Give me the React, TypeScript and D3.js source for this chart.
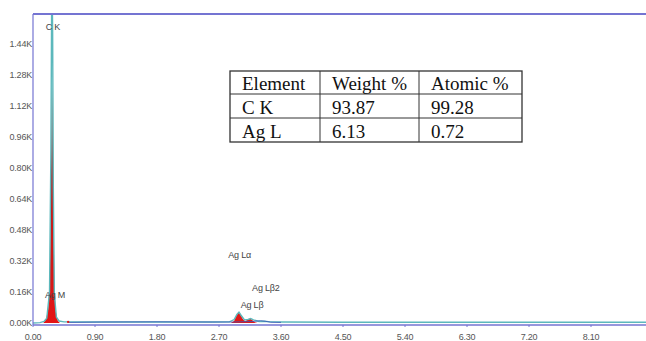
import React from "react";
import * as d3 from "d3";

// axis ticks (keV / counts)
const xTicks = [0, 0.9, 1.8, 2.7, 3.6, 4.5, 5.4, 6.3, 7.2, 8.1];
const yTicks = [0, 160, 320, 480, 640, 800, 960, 1120, 1280, 1440];

// measured spectrum (teal outline)
const specE = [0, 0.1, 0.16, 0.2, 0.24, 0.26, 0.27, 0.276, 0.285, 0.295, 0.31, 0.34, 0.38, 0.45, 0.6, 0.9, 1.4, 2.0, 2.6, 2.85, 2.92, 2.96, 2.99, 3.02, 3.07, 3.12, 3.16, 3.2, 3.28, 3.36, 3.45, 3.6, 4.5, 5.5, 6.5, 7.5, 8.5, 9.0];
const specC = [0, 2, 8, 25, 160, 900, 1600, 1800, 1500, 700, 150, 30, 10, 6, 5, 5, 5, 5, 5, 6, 18, 44, 56, 40, 16, 18, 23, 16, 8, 9, 6, 5, 4, 4, 4, 4, 4, 4];

// fitted peaks (red fill)
const ckE = [0.15, 0.19, 0.22, 0.245, 0.26, 0.27, 0.276, 0.285, 0.295, 0.31, 0.33, 0.36, 0.39];
const ckC = [0, 20, 70, 240, 700, 1150, 1240, 1100, 600, 200, 60, 12, 0];
const agE = [2.87, 2.92, 2.95, 2.98, 3.01, 3.05, 3.08, 3.12, 3.15, 3.18, 3.22, 3.26];
const agC = [0, 10, 36, 56, 44, 18, 9, 18, 23, 16, 4, 0];

// background / residual (blue)
const bgE = [0.5, 1.0, 1.8, 2.6, 2.9, 3.2, 3.3, 3.37, 3.45, 3.6];
const bgC = [3, 5, 6, 5, 5, 8, 12, 9, 4, 3];

// peak labels
const peakNames = ["C K", "Ag M", "Ag L\u03b1", "Ag L\u03b22", "Ag L\u03b2"];
const peakLabelE = [0.29, 0.32, 3.0, 3.38, 3.18];
const peakLabelC = [1510, 129, 335, 165, 77];

// quantification table
const tableHeader = ["Element", "Weight %", "Atomic %"];
const tableRows = [
  ["C K", "93.87", "99.28"],
  ["Ag L", "6.13", "0.72"],
];

const W = 646;
const H = 341;
const frameCol = "#7474d2";
const tickCol = "#555";

export default function App() {
  const x = d3.scaleLinear().domain([0, 8.1]).range([33, 591]);
  const y = d3.scaleLinear().domain([0, 1440]).range([323, 44]);

  const line = d3
    .line<number>()
    .x((_, i) => x(specE[i]))
    .y((d) => y(d));
  const bgLine = d3
    .line<number>()
    .x((_, i) => x(bgE[i]))
    .y((d) => y(d));
  const ckArea = d3
    .area<number>()
    .x((_, i) => x(ckE[i]))
    .y0(y(0))
    .y1((d) => y(d));
  const agArea = d3
    .area<number>()
    .x((_, i) => x(agE[i]))
    .y0(y(0))
    .y1((d) => y(d));

  const colX = [230, 320, 419, 522];
  const rowY = [71, 94, 118, 142];
  const allRows = [tableHeader, ...tableRows];

  return (
    <svg
      width={W}
      height={H}
      style={{ position: "absolute", left: 0, top: 0, background: "#fff" }}
      fontFamily="Liberation Sans, Arial, sans-serif"
    >
      <defs>
        <clipPath id="plot">
          <rect x={33} y={15} width={W - 33} height={311} />
        </clipPath>
        <linearGradient id="ckFill" gradientUnits="userSpaceOnUse" x1={0} x2={0} y1={y(1280)} y2={y(0)}>
          <stop offset="0" stopColor="#8a6464" />
          <stop offset="0.3" stopColor="#9a3030" />
          <stop offset="0.55" stopColor="#c41c1c" />
          <stop offset="1" stopColor="#e41414" />
        </linearGradient>
      </defs>

      {/* y tick labels */}
      {yTicks.map((t) => (
        <text key={t} x={32} y={y(t) + 3} textAnchor="end" fontSize={9} fill={tickCol} letterSpacing={-0.2}>
          {(t / 1000).toFixed(2) + "K"}
        </text>
      ))}
      {/* x tick labels */}
      {xTicks.map((t) => (
        <text key={t} x={x(t)} y={340} textAnchor="middle" fontSize={9} fill={tickCol} letterSpacing={-0.2}>
          {t.toFixed(2)}
        </text>
      ))}
      {xTicks.map((t) => (
        <line key={"tk" + t} x1={x(t)} x2={x(t)} y1={325} y2={327} stroke={frameCol} strokeWidth={1} />
      ))}

      <g clipPath="url(#plot)">
        <path d={ckArea(ckC) || ""} fill="url(#ckFill)" />
        <path d={agArea(agC) || ""} fill="#e01818" />
        <path d={line(specC) || ""} fill="none" stroke="#5cb8bc" strokeWidth={1.4} />
        <path d={bgLine(bgC) || ""} fill="none" stroke="#3a50b8" strokeWidth={0.8} />
        <circle cx={x(0.51)} cy={y(6)} r={1.2} fill="#e01818" />
      </g>

      {/* frame */}
      <line x1={33} x2={W} y1={14} y2={14} stroke={frameCol} strokeWidth={2} />
      <line x1={33} x2={33} y1={14} y2={325} stroke={frameCol} strokeWidth={1.2} />
      <line x1={33} x2={W} y1={325} y2={325} stroke={frameCol} strokeWidth={1.5} />

      {/* peak labels */}
      {peakNames.map((n, i) => (
        <text
          key={n}
          x={x(peakLabelE[i])}
          y={y(peakLabelC[i])}
          textAnchor="middle"
          fontSize={9}
          fill="#444"
          letterSpacing={-0.2}
        >
          {n}
        </text>
      ))}

      {/* table */}
      <g fontFamily="Liberation Serif, Times New Roman, serif" fontSize={19} fill="#111">
        <rect x={colX[0]} y={rowY[0]} width={colX[3] - colX[0]} height={rowY[3] - rowY[0]} fill="#fff" stroke="#333" strokeWidth={1.3} />
        {rowY.slice(1, 3).map((ry) => (
          <line key={"r" + ry} x1={colX[0]} x2={colX[3]} y1={ry} y2={ry} stroke="#333" strokeWidth={1} />
        ))}
        {colX.slice(1, 3).map((cx) => (
          <line key={"c" + cx} x1={cx} x2={cx} y1={rowY[0]} y2={rowY[3]} stroke="#333" strokeWidth={1} />
        ))}
        {allRows.map((row, ri) =>
          row.map((cell, ci) => (
            <text key={ri + "-" + ci} x={colX[ci] + 12} y={rowY[ri + 1] - 4}>
              {cell}
            </text>
          ))
        )}
      </g>
    </svg>
  );
}
